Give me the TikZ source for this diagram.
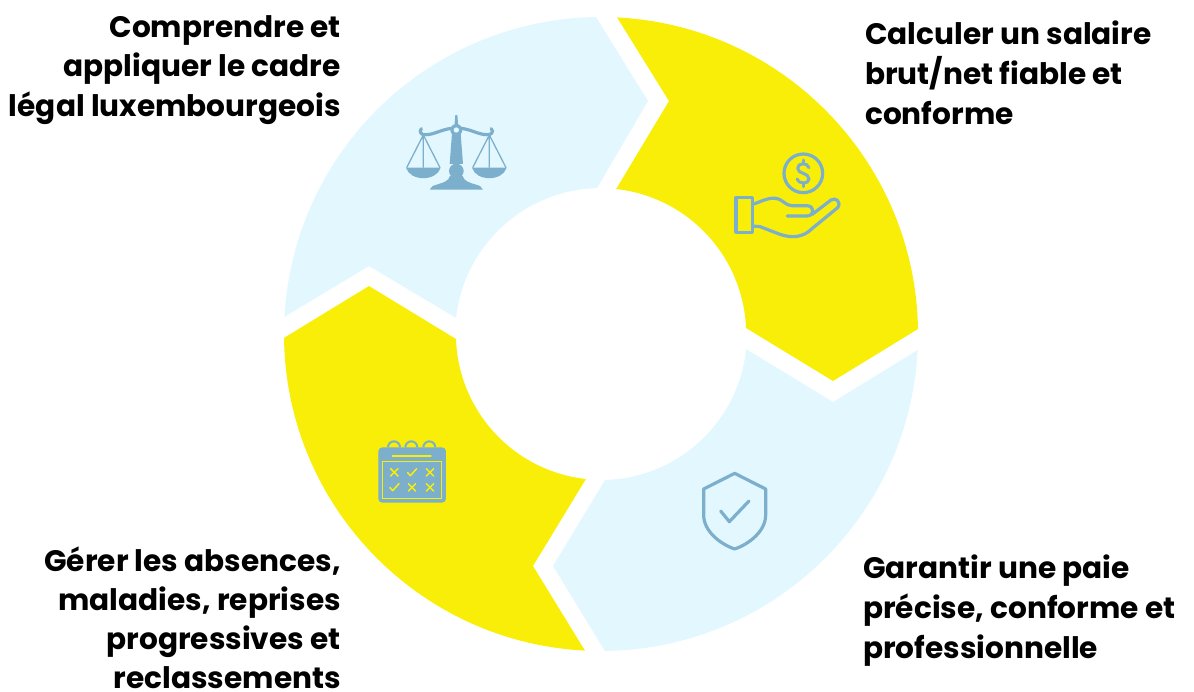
\documentclass[tikz,border=0pt]{standalone}
\usepackage{fontspec}
\setmainfont{Poppins}[BoldFont={* Bold}]
\definecolor{paleblue}{HTML}{E3F7FF}
\definecolor{brightyellow}{HTML}{F8EE08}
\definecolor{iconblue}{HTML}{7CAFCC}
\tikzset{
  paleseg/.style={fill=paleblue,draw=none},
  yellowseg/.style={fill=brightyellow,draw=none},
  caption/.style={font=\fontsize{29.6}{39.8}\selectfont\bfseries,inner sep=0pt,text=black},
  tightcaption/.style={font=\fontsize{29.6}{39}\selectfont\bfseries,inner sep=0pt,text=black},
  iconline/.style={draw=iconblue,line cap=round,line join=round,fill=none},
  calmark/.style={draw=brightyellow,line width=1.5pt,line cap=round,line join=round}
}
\begin{document}
\begin{tikzpicture}[x=1pt,y=-1pt]
\useasboundingbox (0,0) rectangle (1194,691);
\coordinate (c) at (601,334);
% segments
\path[paleseg] (c) ++(-90.9:317) arc[start angle=-90.9,end angle=-176.9,radius=317]
  -- (369,266) -- (456,318) arc[start angle=-173.7,end angle=-91.6,radius=146]
  -- (648,101) -- cycle;
\path[yellowseg] (c) ++(-87.1:317) arc[start angle=-87.1,end angle=-0.9,radius=317]
  -- (833,381) -- (746,328) arc[start angle=-2.4,end angle=-83.7,radius=146]
  -- (669,101) -- cycle;
\path[paleseg] (c) ++(2.9:317) arc[start angle=2.9,end angle=89.3,radius=317]
  -- (553,566) -- (605,480) arc[start angle=88.4,end angle=5.9,radius=146]
  -- (833,402) -- cycle;
\path[yellowseg] (c) ++(92.9:317) arc[start angle=92.9,end angle=179.3,radius=317]
  -- (369,286) -- (456,339) arc[start angle=178,end angle=96.3,radius=146]
  -- (533,566) -- cycle;
% captions
\node[caption,anchor=north east,align=right] (t1) at (341,15) {Comprendre et\\appliquer le cadre\\légal luxembourgeois};
\node[caption,anchor=north west,align=left] (t2) at (865,21) {Calculer un salaire\\brut/net fiable et\\conforme};
\node[caption,anchor=north west,align=left] (t3) at (863,555) {Garantir une paie\\précise, conforme et\\professionnelle};
\node[tightcaption,anchor=north east,align=right] (t4) at (341,547) {Gérer les absences,\\maladies, reprises\\progressives et\\reclassements};
% scales icon
\begin{scope}[shift={(390,100)},x=0.3333pt,y=-0.3333pt]
  \fill[iconblue] (48,203) .. controls (60,245) and (140,245) .. (152,203) -- cycle;
  \fill[iconblue] (246,203) .. controls (258,245) and (338,245) .. (350,203) -- cycle;
  \draw[iconblue,line width=1.3pt] (50,203) -- (100,105) -- (150,203) (100,105) -- (100,203);
  \draw[iconblue,line width=1.3pt] (248,203) -- (298,105) -- (348,203) (298,105) -- (298,203);
  \fill[iconblue] (193,80) -- (196,45) -- (202,45) -- (205,80) -- cycle;
  \fill[iconblue] (199,90) circle[radius=18];
  \draw[iconblue,line width=3.2pt,line cap=round] (94,86) .. controls (86,96) and (94,106) .. (108,104) .. controls (135,104) and (160,84) .. (199,84) .. controls (238,84) and (263,104) .. (290,104) .. controls (304,106) and (312,96) .. (304,86);
  \fill[iconblue] (186,100) -- (212,100) -- (219,192) -- (179,192) -- cycle;
  \fill[iconblue] (199,213) circle[radius=22];
  \fill[iconblue] (180,228) -- (218,228) .. controls (222,244) and (240,248) .. (252,252) -- (270,258) -- (279,269) -- (119,269) -- (128,258) -- (146,252) .. controls (158,248) and (176,244) .. (180,228) -- cycle;
  \fill[paleblue] (199,90) circle[radius=8];
\end{scope}
% hand icon
\begin{scope}[shift={(725,145)},x=0.3333pt,y=-0.3333pt]
  \draw[iconline,line width=3.2pt] (235,85) circle[radius=58];
  \draw[iconline,line width=3pt] (252,68) .. controls (248,52) and (218,52) .. (218,70) .. controls (218,88) and (252,82) .. (252,102) .. controls (252,118) and (220,118) .. (216,102);
  \draw[iconline,line width=3pt] (235,45) -- (235,54) (235,116) -- (235,125);
  \draw[iconline,line width=3.2pt] (33,157) rectangle (82,262);
  \draw[iconline,line width=3.2pt] (82,178) .. controls (110,170) and (125,158) .. (150,160) .. controls (175,162) and (180,182) .. (200,182) -- (245,182) .. controls (270,182) and (270,213) .. (245,213) -- (187,213);
  \draw[iconline,line width=3.2pt] (262,208) -- (318,165) .. controls (332,155) and (350,172) .. (338,188) -- (262,250) .. controls (235,278) and (200,280) .. (165,268) -- (105,245) -- (82,243);
\end{scope}
% calendar icon
\begin{scope}[shift={(365,430)},x=0.3333pt,y=-0.3333pt]
  \draw[iconblue,line width=2pt] (69,52) arc[start angle=180,end angle=360,radius=18] (121,52) arc[start angle=180,end angle=360,radius=18] (175,52) arc[start angle=180,end angle=360,radius=18];
  \fill[iconblue,rounded corners=4pt] (40,52) rectangle (243,218);
  \draw[calmark] (82,78) -- (198,78);
  \draw[draw=brightyellow,line width=1.3pt] (52,95) rectangle (230,205);
  \foreach \px/\py in {88/127,195/127,141/172,195/172}
    \draw[calmark] (\px-11,\py-11) -- (\px+11,\py+11) (\px-11,\py+11) -- (\px+11,\py-11);
  \foreach \px/\py in {141/127,88/172}
    \draw[calmark] (\px-13,\py+1) -- (\px-5,\py+10) -- (\px+14,\py-11);
\end{scope}
% shield icon
\begin{scope}[shift={(690,465)},x=0.3333pt,y=-0.3333pt]
  \draw[iconline,line width=3.2pt] (134,25) -- (227,72) -- (227,150) .. controls (227,200) and (175,238) .. (134,252) .. controls (93,238) and (41,200) .. (41,150) -- (41,72) -- cycle;
  \draw[iconline,line width=3.2pt] (92,138) -- (118,170) -- (177,108);
\end{scope}
\end{tikzpicture}
\end{document}
